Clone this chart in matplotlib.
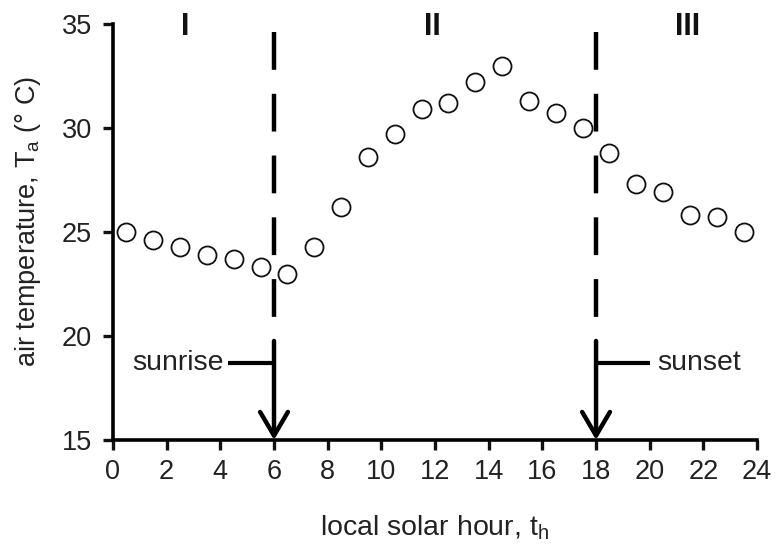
import matplotlib
matplotlib.use("Agg")
import matplotlib.pyplot as plt
from matplotlib.patches import FancyArrowPatch

plt.rcParams['font.family'] = ['Liberation Sans', 'DejaVu Sans']

# hourly air temperature over one day
hours = [0.5, 1.5, 2.5, 3.5, 4.5, 5.5, 6.5, 7.5, 8.5, 9.5, 10.5, 11.5,
         12.5, 13.5, 14.5, 15.5, 16.5, 17.5, 18.5, 19.5, 20.5, 21.5, 22.5, 23.5]
temps = [25.0, 24.6, 24.3, 23.9, 23.7, 23.3, 23.0, 24.3, 26.2, 28.6, 29.7, 30.9,
         31.2, 32.2, 33.0, 31.3, 30.7, 30.0, 28.8, 27.3, 26.9, 25.8, 25.7, 25.0]

sunrise_hour = 6
sunset_hour = 18
periods = ["I", "II", "III"]
period_x = [2.7, 11.9, 21.4]
xticks = list(range(0, 25, 2))
yticks = [15, 20, 25, 30, 35]

fig = plt.figure(figsize=(7.76, 5.51), dpi=100)
ax = fig.add_axes([0.1456, 0.2015, 0.83, 0.7549])

ax.plot(hours, temps, linestyle='none', marker='o', markersize=13,
        markerfacecolor='white', markeredgecolor='#111111', markeredgewidth=1.3,
        clip_on=False, zorder=3)

ax.set_xlim(0, 24)
ax.set_ylim(15, 35)
ax.set_xticks(xticks)
ax.set_yticks(yticks)

for side in ['top', 'right']:
    ax.spines[side].set_visible(False)
for side in ['left', 'bottom']:
    ax.spines[side].set_linewidth(2.6)
ax.tick_params(axis='both', direction='out', length=7, width=2.4,
               labelsize=19.5, colors='#111111', labelcolor='#222222')
ax.tick_params(axis='x', pad=7)
ax.tick_params(axis='y', pad=8)

# dashed period boundaries, solid arrow at the bottom
for xv in [sunrise_hour, sunset_hour]:
    ax.plot([xv, xv], [34.62, 20.91], color='black', lw=3.2,
            dashes=(8.5, 5.4), dash_capstyle='butt', solid_capstyle='butt')
    arr = FancyArrowPatch((xv, 19.76), (xv, 15.0),
                          arrowstyle='->,head_length=0.85,head_width=0.5',
                          color='black', lw=3.2, mutation_scale=20,
                          shrinkA=0, shrinkB=0, clip_on=False, zorder=4)
    ax.add_patch(arr)

ax.plot([4.29, sunrise_hour], [18.7, 18.7], color='black', lw=3.0,
        solid_capstyle='butt')
ax.text(4.12, 18.7, "sunrise", ha='right', va='center', fontsize=20.5,
        color='#222222')
ax.plot([sunset_hour, 20.0], [18.7, 18.7], color='black', lw=3.0,
        solid_capstyle='butt')
ax.text(20.28, 18.7, "sunset", ha='left', va='center', fontsize=20.5,
        color='#222222')

for lab, xv in zip(periods, period_x):
    ax.text(xv, 34.85, lab, ha='center', va='center', fontsize=22,
            fontweight='bold', color='#111111')

ax.set_xlabel("local solar hour, t$_\\mathregular{h}$", fontsize=20.5,
              color='#222222')
ax.set_ylabel("air temperature, T$_\\mathregular{a}$ (° C)", fontsize=19.5,
              color='#222222')
ax.xaxis.set_label_coords(0.5, -0.175)
ax.yaxis.set_label_coords(-0.108, 0.525)

fig.savefig("out.png", dpi=100, facecolor='white')
